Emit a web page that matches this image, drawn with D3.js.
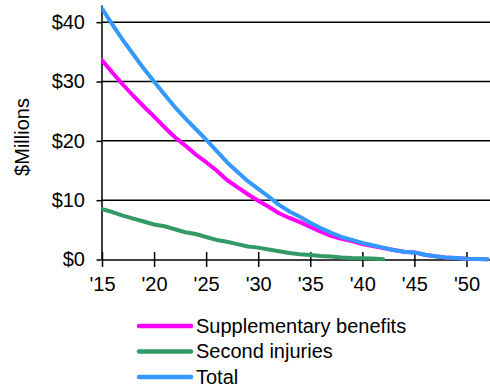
<!DOCTYPE html>
<html>
<head>
<meta charset="utf-8">
<script src="https://cdn.jsdelivr.net/npm/d3@7/dist/d3.min.js"></script>
<style>
  html, body { margin: 0; padding: 0; background: #fff; }
  svg { display: block; font-family: "Liberation Sans", Arial, sans-serif; }
</style>
</head>
<body>
<svg id="chart" width="490" height="387"></svg>
<script>
// Annual projections, $ millions
const years = d3.range(2015, 2053);
const supplementary = [
  33.6, 31.5, 29.5, 27.6, 25.8, 24.1, 22.3, 20.6, 19.2, 17.7,
  16.4, 15.0, 13.4, 12.2, 11.0, 9.9, 8.9, 7.8, 7.0, 6.3,
  5.5, 4.7, 4.0, 3.5, 3.1, 2.6, 2.25, 1.95, 1.6, 1.3,
  1.2, 0.8, 0.55, 0.35, 0.25, 0.12, 0.08, 0.05
];
const secondInjuries = [
  8.5, 8.0, 7.4, 6.9, 6.4, 5.9, 5.6, 5.1, 4.6, 4.3,
  3.8, 3.3, 3.0, 2.6, 2.2, 2.0, 1.7, 1.4, 1.1, 0.9,
  0.75, 0.6, 0.5, 0.35, 0.25, 0.2, 0.15, 0.05
];
const total = [
  42.3, 39.6, 37.0, 34.6, 32.2, 30.0, 27.8, 25.7, 23.8, 22.0,
  20.2, 18.3, 16.4, 14.8, 13.2, 11.9, 10.6, 9.2, 8.1, 7.2,
  6.2, 5.3, 4.5, 3.8, 3.3, 2.8, 2.4, 2.0, 1.6, 1.3,
  1.2, 0.8, 0.55, 0.35, 0.25, 0.12, 0.08, 0.05
];
const yTicks = [0, 10, 20, 30, 40];
const xTicks = [2015, 2020, 2025, 2030, 2035, 2040, 2045, 2050];

const seriesNames = ["Supplementary benefits", "Second injuries", "Total"];
const seriesColors = ["#ff00ff", "#339966", "#3399ff"];
const seriesValues = [supplementary, secondInjuries, total];

const svg = d3.select("#chart");
const plotLeft = 101.5, plotRight = 490, plotTop = 5, plotBottom = 259.5;

const x = d3.scaleLinear().domain([2015, 2052.26]).range([plotLeft + 0.5, plotRight]);
const y = d3.scaleLinear().domain([0, 42.9]).range([plotBottom, plotTop]);

// Horizontal gridlines
svg.append("g")
  .selectAll("line")
  .data(yTicks.filter(d => d > 0))
  .join("line")
  .attr("x1", plotLeft).attr("x2", plotRight)
  .attr("y1", d => y(d)).attr("y2", d => y(d))
  .attr("stroke", "#000").attr("stroke-width", 1.5);

// Y axis
const yAxis = svg.append("g")
  .attr("transform", `translate(${plotLeft},0)`)
  .call(d3.axisLeft(y).tickValues(yTicks).tickFormat(d => "$" + d)
    .tickSize(5).tickSizeOuter(0).tickPadding(11.5));
yAxis.select(".domain").attr("stroke", "#000").attr("stroke-width", 1.5);
yAxis.selectAll(".tick line").attr("stroke", "#000").attr("stroke-width", 1.5);
yAxis.selectAll("text").attr("font-size", 20).attr("fill", "#000")
  .attr("font-family", "Liberation Sans, Arial, sans-serif");

// X axis with ticks crossing the baseline
const xAxis = svg.append("g")
  .attr("transform", `translate(0,${plotBottom})`)
  .call(d3.axisBottom(x).tickValues(xTicks)
    .tickFormat(d => "'" + String(d).slice(2))
    .tickSize(7.5).tickSizeOuter(0).tickPadding(9.5));
xAxis.select(".domain").attr("stroke", "#000").attr("stroke-width", 1.5);
xAxis.selectAll(".tick line").attr("y1", -7.5).attr("stroke", "#000").attr("stroke-width", 1.5);
xAxis.selectAll("text").attr("font-size", 20).attr("fill", "#000")
  .attr("font-family", "Liberation Sans, Arial, sans-serif");

// Axis title
svg.append("text")
  .attr("transform", `translate(29,137) rotate(-90)`)
  .attr("text-anchor", "middle")
  .attr("font-size", 20)
  .attr("fill", "#000")
  .text("$Millions");

// Series lines (drawn green, magenta, then total on top)
svg.append("clipPath").attr("id", "plot-clip")
  .append("rect").attr("x", plotLeft).attr("y", 0)
  .attr("width", plotRight - plotLeft).attr("height", plotBottom + 5);

const line = d3.line().x(d => x(d[0])).y(d => y(d[1]));
const drawOrder = [1, 0, 2];
svg.append("g").attr("clip-path", "url(#plot-clip)")
  .selectAll("path")
  .data(drawOrder)
  .join("path")
  .attr("d", i => line(seriesValues[i].map((v, k) => [years[k], v])))
  .attr("fill", "none")
  .attr("stroke", i => seriesColors[i])
  .attr("stroke-width", 4)
  .attr("stroke-linejoin", "round")
  .attr("stroke-linecap", "round");

// Legend
const legend = svg.append("g");
const rows = legend.selectAll("g")
  .data(seriesNames)
  .join("g")
  .attr("transform", (d, i) => `translate(0,${326 + i * 25.5})`);
rows.append("line")
  .attr("x1", 139).attr("x2", 191)
  .attr("stroke", (d, i) => seriesColors[i])
  .attr("stroke-width", 4.5)
  .attr("stroke-linecap", "round");
rows.append("text")
  .attr("x", 196).attr("y", 6.8)
  .attr("font-size", 20)
  .attr("fill", "#000")
  .text(d => d);
</script>
</body>
</html>
